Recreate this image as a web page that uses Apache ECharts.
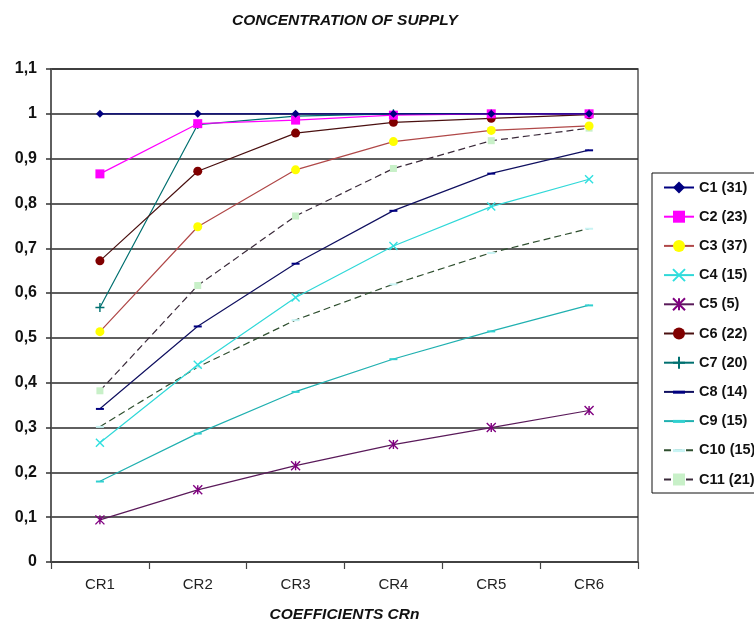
<!DOCTYPE html>
<html>
<head>
<meta charset="utf-8">
<script src="https://cdn.jsdelivr.net/npm/echarts@6/dist/echarts.min.js"></script>
<style>
  html, body { margin: 0; padding: 0; background: #ffffff; }
  #chart { width: 754px; height: 635px; }
</style>
</head>
<body>
<div id="chart"></div>
<script>
// Concentration ratios CR1..CR6 for eleven supply groups (count of suppliers in brackets)
const categories = ['CR1', 'CR2', 'CR3', 'CR4', 'CR5', 'CR6'];
const yTicks = ['0', '0,1', '0,2', '0,3', '0,4', '0,5', '0,6', '0,7', '0,8', '0,9', '1', '1,1'];

const seriesNames = ['C1 (31)', 'C2 (23)', 'C3 (37)', 'C4 (15)', 'C5 (5)', 'C6 (22)',
                     'C7 (20)', 'C8 (14)', 'C9 (15)', 'C10 (15)', 'C11 (21)'];

const c1  = [1.000, 1.000, 1.000, 1.000, 1.000, 1.000];
const c2  = [0.866, 0.978, 0.986, 0.997, 1.000, 1.000];
const c3  = [0.514, 0.748, 0.875, 0.938, 0.963, 0.973];
const c4  = [0.266, 0.440, 0.590, 0.705, 0.793, 0.854];
const c5  = [0.094, 0.161, 0.215, 0.262, 0.300, 0.338];
const c6  = [0.672, 0.872, 0.957, 0.981, 0.990, 0.998];
const c7  = [0.568, 0.976, 0.995, 1.000, 1.000, 1.000];
const c8  = [0.342, 0.526, 0.666, 0.784, 0.867, 0.919];
const c9  = [0.180, 0.287, 0.380, 0.453, 0.515, 0.573];
const c10 = [0.302, 0.435, 0.540, 0.620, 0.690, 0.744];
const c11 = [0.382, 0.617, 0.772, 0.878, 0.940, 0.968];

const seriesValues = [c1, c2, c3, c4, c5, c6, c7, c8, c9, c10, c11];

const FONT = "'Liberation Sans', Arial, 'Noto Sans', sans-serif";

// stroked marker shapes; the dash keeps a square bounding box so it stays thin
const X_MARK = 'path://M0 0 L10 10 M10 0 L0 10';
const STAR_MARK = 'path://M0 0 L10 10 M10 0 L0 10 M5 0 L5 10';
const PLUS_MARK = 'path://M5 0 L5 10 M0 5 L10 5';
const DASH_MARK = 'path://M0 0 M0 4 L10 4 L10 6.5 L0 6.5 Z M10 10';

const looks = [
  { line: '#000080', mark: '#000080', symbol: 'diamond', size: 8 },
  { line: '#ff00ff', mark: '#ff00ff', symbol: 'rect', size: 9 },
  { line: '#b04848', mark: '#ffff00', symbol: 'circle', size: 9 },
  { line: '#30d8d8', mark: '#30e0e0', symbol: X_MARK, size: 8, stroke: true },
  { line: '#5a1a5a', mark: '#800080', symbol: STAR_MARK, size: 9, stroke: true },
  { line: '#4a1010', mark: '#800000', symbol: 'circle', size: 9 },
  { line: '#007070', mark: '#007070', symbol: PLUS_MARK, size: 9, stroke: true },
  { line: '#101060', mark: '#000080', symbol: DASH_MARK, size: 8 },
  { line: '#20b0b0', mark: '#30d0d0', symbol: DASH_MARK, size: 8 },
  { line: '#2f4f2f', mark: '#c8f4f4', symbol: DASH_MARK, size: 8, dashed: true },
  { line: '#3a2a3a', mark: '#c8f0c8', symbol: 'rect', size: 7, dashed: true }
];

const series = seriesNames.map((name, i) => {
  const lk = looks[i];
  return {
    name: name,
    type: 'line',
    data: seriesValues[i],
    symbol: lk.symbol,
    symbolSize: lk.size,
    showAllSymbol: true,
    z: 3 + (10 - i),
    lineStyle: { color: lk.line, width: 1.2, type: lk.dashed ? [7, 4] : 'solid' },
    itemStyle: lk.stroke
      ? { color: lk.mark, borderColor: lk.mark, borderWidth: 1.4 }
      : { color: lk.mark, borderWidth: 0 },
    emphasis: { disabled: true },
    animation: false
  };
});

const chart = echarts.init(document.getElementById('chart'), null, { renderer: 'canvas' });

chart.setOption({
  backgroundColor: '#ffffff',
  animation: false,
  graphic: [{
    type: 'text',
    x: 345,
    y: 21,
    style: {
      text: 'CONCENTRATION OF SUPPLY',
      font: 'italic bold 15.5px ' + FONT,
      fill: '#111',
      align: 'center',
      verticalAlign: 'middle'
    }
  }],
  grid: {
    left: 51, right: 116, top: 69, bottom: 73,
    show: true,
    borderColor: '#555',
    borderWidth: 1.5,
    backgroundColor: '#ffffff'
  },
  legend: {
    orient: 'vertical',
    left: 652,
    top: 173,
    padding: [7, 60, 6, 11],
    itemWidth: 30,
    itemHeight: 15,
    itemGap: 14.2,
    itemTextGap: 3,
    borderColor: '#111',
    borderWidth: 1,
    backgroundColor: '#ffffff',
    selectedMode: false,
    data: seriesNames,
    textStyle: { fontFamily: FONT, fontWeight: 'bold', fontSize: 14.5, lineHeight: 15, color: '#111' }
  },
  xAxis: {
    type: 'category',
    data: categories,
    boundaryGap: true,
    name: 'COEFFICIENTS CRn',
    nameLocation: 'middle',
    nameGap: 45,
    nameTextStyle: { fontFamily: FONT, fontStyle: 'italic', fontWeight: 'bold', fontSize: 15.5, color: '#111' },
    axisLine: { show: true, lineStyle: { color: '#444', width: 1.5 } },
    axisTick: { show: true, inside: false, length: 7, alignWithLabel: false, lineStyle: { color: '#444', width: 1.2 } },
    axisLabel: { fontFamily: FONT, fontSize: 15, color: '#222', margin: 15 },
    splitLine: { show: false }
  },
  yAxis: {
    type: 'value',
    min: 0,
    max: 1.1,
    interval: 0.1,
    axisLine: { show: true, lineStyle: { color: '#555', width: 1.5 } },
    axisTick: { show: true, length: 5, lineStyle: { color: '#333', width: 1.5 } },
    axisLabel: {
      fontFamily: FONT, fontWeight: 'bold', fontSize: 16, color: '#111', margin: 14,
      formatter: (v) => yTicks[Math.round(v * 10)]
    },
    splitLine: { show: true, lineStyle: { color: '#2a2a2a', width: 1.6 } }
  },
  series: series
});
</script>
</body>
</html>
